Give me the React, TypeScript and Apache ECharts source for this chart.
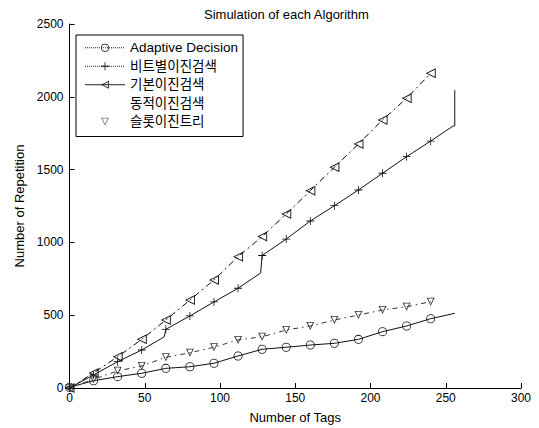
import React, { useEffect, useRef } from "react";
import * as echarts from "echarts";

const seriesNames = ["Adaptive Decision", "비트별이진검색", "기본이진검색", "동적이진검색", "슬롯이진트리"];

const tags = [0, 16, 32, 48, 64, 80, 96, 112, 128, 144, 160, 176, 192, 208, 224, 240, 256];

// Adaptive Decision (circle markers)
const adaptive = [5, 50, 78, 101, 135, 146, 170, 220, 266, 280, 295, 307, 334, 387, 426, 476, 513];

// 비트별이진검색 (+ markers), values at the tags, plus values just before each step
const bitwise = [0, 90, 181, 261, 403, 495, 591, 685, 910, 1023, 1147, 1252, 1360, 1475, 1589, 1696, 2045];
const bitwiseStepTags = [64, 128, 256];
const bitwiseBeforeStep = [352, 790, 1800];

// 기본이진검색 (left triangle markers)
const basicTags = [0, 16, 32, 48, 64, 80, 96, 112, 128, 144, 160, 176, 192, 208, 224, 240];
const basic = [0, 103, 215, 334, 467, 604, 742, 902, 1040, 1195, 1355, 1516, 1676, 1841, 1990, 2161];

// 동적이진검색 (overlaps 기본이진검색)
const dynamic = [0, 103, 215, 334, 467, 604, 742, 902, 1040, 1195, 1355, 1516, 1676, 1841, 1990, 2161];

// 슬롯이진트리 (down triangle markers)
const slot = [0, 60, 118, 151, 211, 242, 280, 330, 352, 398, 426, 467, 501, 536, 558, 593];

const xTicks = { min: 0, max: 300, interval: 50 };
const yTicks = { min: 0, max: 2500, interval: 500 };

const FONT = "'Liberation Sans', Arial, 'Noto Sans CJK KR', sans-serif";
const PLUS = "path://M4.5,0h1v4.5h4.5v1h-4.5v4.5h-1v-4.5h-4.5v-1h4.5z";
const RING = "path://M0,5a5,5 0 1,0 10,0a5,5 0 1,0 -10,0zM0.9,5a4.1,4.1 0 1,1 8.2,0a4.1,4.1 0 1,1 -8.2,0z";
const TRI_LEFT = "path://M0,5L10,0L10,10ZM1.9,5L9.1,8.5L9.1,1.5Z";
const TRI_DOWN = "path://M0,0L10,0L5,9ZM1.7,0.9L5,7L8.3,0.9Z";

export default function App() {
  const ref = useRef<HTMLDivElement>(null);
  useEffect(() => {
    if (!ref.current) return;
    const chart = echarts.init(ref.current, null, { renderer: "svg" });

    const adaptiveData = tags.map((t, i) =>
      i === tags.length - 1 ? { value: [t, adaptive[i]], symbol: "none" } : [t, adaptive[i]]
    );

    const bitwiseData: any[] = [];
    tags.forEach((t, i) => {
      const s = bitwiseStepTags.indexOf(t);
      if (s >= 0) {
        bitwiseData.push({ value: [t - 1, bitwiseBeforeStep[s]], symbol: "none" });
      }
      if (t === 256) {
        bitwiseData.push({ value: [t, bitwiseBeforeStep[s]], symbol: "none" });
        bitwiseData.push({ value: [t, bitwise[i]], symbol: "none" });
      } else {
        bitwiseData.push([t, bitwise[i]]);
      }
    });

    const black = "#111";
    const legendLine = { width: 1, color: "#222" };

    chart.setOption({
      animation: false,
      backgroundColor: "#fff",
      textStyle: { fontFamily: FONT },
      title: {
        text: "Simulation of each Algorithm",
        left: 199,
        top: 3,
        textStyle: { fontSize: 13, fontWeight: "normal", color: "#000", fontFamily: FONT },
      },
      legend: {
        orient: "vertical",
        left: 76,
        top: 35,
        itemWidth: 40,
        itemHeight: 10,
        itemGap: 5,
        padding: [6, 5, 8, 8],
        borderColor: "#000",
        borderWidth: 1,
        backgroundColor: "#fff",
        textStyle: { fontSize: 13.5, lineHeight: 13, color: "#000", fontFamily: FONT },
        data: [
          { name: seriesNames[0], lineStyle: { ...legendLine, type: "dotted" } },
          { name: seriesNames[1], lineStyle: { ...legendLine, type: "dotted" } },
          { name: seriesNames[2], lineStyle: { ...legendLine, type: "solid" } },
          { name: seriesNames[3], itemStyle: { opacity: 0 }, lineStyle: { opacity: 0 } },
          { name: seriesNames[4], lineStyle: { opacity: 0 }, itemStyle: { color: "#777" } },
        ],
      },
      grid: {
        left: 69.5,
        right: 18,
        top: 24,
        bottom: 40,
        containLabel: false,
        outerBoundsMode: "none",
      },
      xAxis: {
        type: "value",
        min: xTicks.min,
        max: xTicks.max,
        interval: xTicks.interval,
        name: "Number of Tags",
        nameLocation: "middle",
        nameGap: 23,
        nameTextStyle: { fontSize: 13, color: "#000", fontFamily: FONT },
        axisLine: { show: true, onZero: false, lineStyle: { color: "#000", width: 1 } },
        axisTick: { show: true, inside: true, length: 5, lineStyle: { color: "#000" } },
        axisLabel: { fontSize: 12, color: "#000", margin: 4, fontFamily: FONT, formatter: (v: number) => String(v) },
        splitLine: { show: false },
      },
      yAxis: {
        type: "value",
        min: yTicks.min,
        max: yTicks.max,
        interval: yTicks.interval,
        name: "Number of Repetition",
        nameLocation: "middle",
        nameGap: 44,
        nameTextStyle: { fontSize: 13, color: "#000", fontFamily: FONT },
        axisLine: { show: true, onZero: false, lineStyle: { color: "#000", width: 1 } },
        axisTick: { show: true, inside: true, length: 5, lineStyle: { color: "#000" } },
        axisLabel: { fontSize: 12, color: "#000", margin: 6, fontFamily: FONT, formatter: (v: number) => String(v) },
        splitLine: { show: false },
      },
      series: [
        {
          name: seriesNames[3],
          type: "line",
          z: 1,
          data: basicTags.map((t, i) => [t, dynamic[i]]),
          symbol: "none",
          lineStyle: { color: "#bbb", width: 1, type: "dotted" },
          itemStyle: { color: "#bbb" },
        },
        {
          name: seriesNames[0],
          type: "line",
          z: 3,
          data: adaptiveData,
          symbol: RING,
          symbolSize: 9,
          lineStyle: { color: black, width: 1 },
          itemStyle: { color: black },
        },
        {
          name: seriesNames[1],
          type: "line",
          z: 3,
          data: bitwiseData,
          symbol: PLUS,
          symbolSize: 8,
          lineStyle: { color: black, width: 1 },
          itemStyle: { color: black },
        },
        {
          name: seriesNames[2],
          type: "line",
          z: 3,
          data: basicTags.map((t, i) => [t, basic[i]]),
          symbol: TRI_LEFT,
          symbolSize: 10,
          lineStyle: { color: black, width: 1, type: [6, 4, 1.5, 4] },
          itemStyle: { color: black },
        },
        {
          name: seriesNames[4],
          type: "line",
          z: 3,
          data: basicTags.map((t, i) => [t, slot[i]]),
          symbol: TRI_DOWN,
          symbolSize: 8,
          lineStyle: { color: "#333", width: 1, type: [5, 4, 1.5, 4] },
          itemStyle: { color: "#333" },
        },
      ],
    });
    return () => chart.dispose();
  }, []);

  return (
    <div
      ref={ref}
      style={{ position: "fixed", left: 0, top: 0, width: 539, height: 428, background: "#fff" }}
    />
  );
}
